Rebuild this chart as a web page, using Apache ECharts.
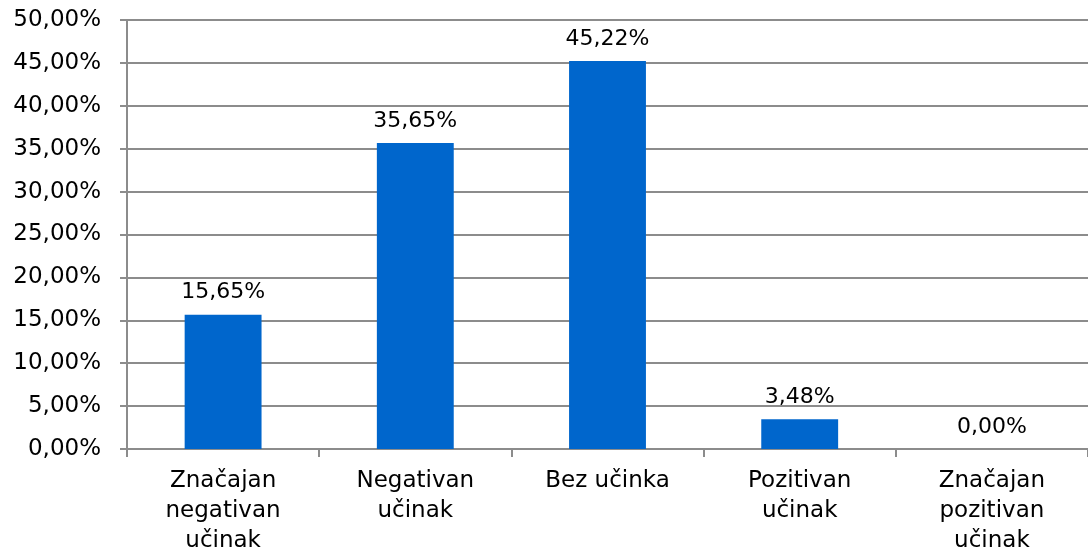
<!DOCTYPE html>
<html>
<head>
<meta charset="utf-8">
<script src="https://cdn.jsdelivr.net/npm/echarts@6/dist/echarts.min.js"></script>
<style>
  html, body { margin: 0; padding: 0; background: #fff; }
  #chart { width: 1088px; height: 551px; }
</style>
</head>
<body>
<div id="chart"></div>
<script>
// kategorije i vrijednosti (%)
var categories = ['Značajan\nnegativan\nučinak', 'Negativan\nučinak', 'Bez učinka', 'Pozitivan\nučinak', 'Značajan\npozitivan\nučinak']
var values = [15.65, 35.65, 45.22, 3.48, 0.00]

var FONT = '"DejaVu Sans", Verdana, sans-serif'

function pct(v) {
  return v.toFixed(2).replace('.', ',') + '%'
}

var chart = echarts.init(document.getElementById('chart'))
chart.setOption({
  animation: false,
  textStyle: { fontFamily: FONT },
  grid: { left: 127, right: 0, top: 20, bottom: 102, outerBoundsMode: 'none', containLabel: false },
  xAxis: {
    type: 'category',
    data: categories,
    axisLine: { lineStyle: { color: '#8c8c8c', width: 2 } },
    axisTick: { show: true, length: 8, lineStyle: { color: '#8c8c8c', width: 2 } },
    axisLabel: { color: '#000', fontFamily: FONT, fontSize: 23, lineHeight: 30, margin: 17, interval: 0 }
  },
  yAxis: {
    type: 'value',
    min: 0,
    max: 50,
    interval: 5,
    axisLine: { show: true, lineStyle: { color: '#8c8c8c', width: 2 } },
    axisTick: { show: true, length: 7, lineStyle: { color: '#8c8c8c', width: 2 } },
    splitLine: { lineStyle: { color: '#8c8c8c', width: 2 } },
    axisLabel: { color: '#000', fontFamily: FONT, fontSize: 23, margin: 26, formatter: pct }
  },
  series: [
    {
      type: 'bar',
      data: values,
      barWidth: '40%',
      itemStyle: { color: '#0066cc' },
      label: {
        show: true,
        position: 'top',
        distance: 11,
        color: '#000',
        fontFamily: FONT,
        fontSize: 22,
        formatter: function(p) { return pct(p.value) }
      }
    }
  ]
})
</script>
</body>
</html>
